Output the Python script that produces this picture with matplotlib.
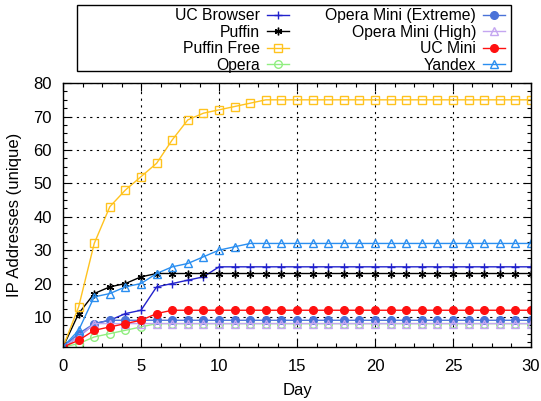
import numpy as np
import matplotlib.pyplot as plt
from matplotlib.ticker import MultipleLocator
from matplotlib.patches import Rectangle

plt.rcParams['font.family'] = ['Liberation Sans', 'DejaVu Sans']

days = list(range(0, 31))

uc_browser = [1, 4, 8, 9, 11, 12, 19, 20, 21, 22] + [25] * 21
puffin = [1, 11, 17, 19, 20, 22] + [23] * 25
puffin_free = [1, 13, 32, 43, 48, 52, 56, 63, 69, 71, 72, 73, 74] + [75] * 18
opera = [1, 2, 4, 5, 6, 7] + [8] * 25
opera_mini_ext = [1, 5, 8] + [9] * 28
opera_mini_high = [1, 4] + [8] * 29
uc_mini = [1, 3, 6, 7, 8, 9, 11] + [12] * 24
yandex = [1, 6, 16, 17, 19, 20, 23, 25, 26, 28, 30, 31] + [32] * 19

ast = (6, 2, 0)
series = [
    ('UC Browser', uc_browser, '#2222cc', '+', 'full'),
    ('Puffin', puffin, 'black', ast, 'full'),
    ('Puffin Free', puffin_free, '#ffc31f', 's', 'none'),
    ('Opera', opera, '#90ee80', 'o', 'none'),
    ('Opera Mini (Extreme)', opera_mini_ext, '#4a72d8', 'o', 'full'),
    ('Opera Mini (High)', opera_mini_high, '#c4a6f0', '^', 'none'),
    ('UC Mini', uc_mini, '#ff1010', 'o', 'full'),
    ('Yandex', yandex, '#2a8ef0', '^', 'none'),
]

fig = plt.figure(figsize=(5.41, 4.01), dpi=100)
ax = fig.add_axes([0.1165, 0.1347, 0.865, 0.658])

handles = []
for name, vals, col, mk, fs in series:
    h, = ax.plot(days, vals, color=col, marker=mk, fillstyle=fs, markersize=5.5,
                 markeredgewidth=1.0, linewidth=1.0, label=name)
    handles.append(h)

ax.set_xlim(0, 30)
ax.set_ylim(1, 80)
ax.xaxis.set_major_locator(MultipleLocator(5))
ax.xaxis.set_minor_locator(MultipleLocator(1.25))
ax.set_yticks([10, 20, 30, 40, 50, 60, 70, 80])
ax.yaxis.set_minor_locator(MultipleLocator(2.5))
ax.tick_params(which='both', direction='in', top=True, right=True, labelsize=12)
ax.tick_params(axis='x', pad=9)
ax.tick_params(axis='y', pad=8)
ax.tick_params(which='major', length=6, width=0.8)
ax.tick_params(which='minor', length=3, width=0.8)
ax.grid(True, which='major', color='black', linestyle=(0, (2, 4)), linewidth=0.8)
for s in ax.spines.values():
    s.set_linewidth(1.0)
ax.set_xlabel('Day', fontsize=12, labelpad=6)
ax.set_ylabel('IP Addresses (unique)', fontsize=12, labelpad=8)

# legend box like gnuplot: two right-aligned columns
fig.patches.append(Rectangle((77 / 541, 1 - 71 / 401), 434 / 541, 66 / 401,
                             transform=fig.transFigure, fill=False,
                             edgecolor='black', linewidth=1.0))
kw = dict(loc='upper right', markerfirst=False, fontsize=11.3, frameon=False,
          labelspacing=0.1, handlelength=1.4, handletextpad=0.45,
          borderpad=0.0, borderaxespad=0.0)
leg1 = fig.legend(handles[:4], [s[0] for s in series[:4]],
                  bbox_to_anchor=(289 / 541, 1 - 8 / 401), **kw)
leg2 = fig.legend(handles[4:], [s[0] for s in series[4:]],
                  bbox_to_anchor=(505 / 541, 1 - 8 / 401), **kw)

fig.savefig('out.png', dpi=100)
